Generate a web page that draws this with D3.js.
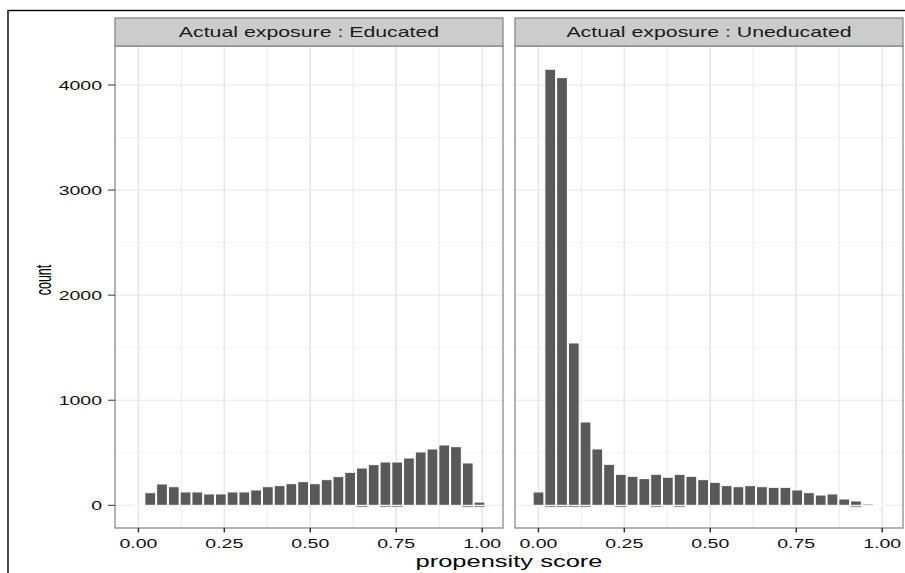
<!DOCTYPE html>
<html>
<head>
<meta charset="utf-8">
<script src="https://cdn.jsdelivr.net/npm/d3@7"></script>
<style>
  body { margin: 0; background: #fff; }
  text { font-family: "Liberation Sans", Arial, sans-serif; }
</style>
</head>
<body>
<div id="vis"></div>
<script>
// facet labels
var panels = ["Actual exposure : Educated", "Actual exposure : Uneducated"];

// histogram bins (30 bins, shared)
var binStart = -0.0167,
    binWidth = 0.0342;

// counts per bin
var educatedCounts = [0, 120, 203, 177, 127, 127, 108, 108, 127, 127, 146, 177, 187, 206, 225,
  206, 244, 273, 314, 355, 387, 412, 412, 450, 508, 536, 574, 558, 403, 31];
var uneducatedCounts = [127, 4150, 4070, 1545, 793, 536, 390, 295, 276, 254, 295, 267, 295, 276, 244,
  219, 187, 177, 187, 177, 171, 171, 146, 120, 98, 108, 60, 41, 12, 0];

// bins with a tiny second layer showing as a dash under the base
var educatedMinor = [19, 21, 22, 28, 29];
var uneducatedMinor = [1, 2, 3, 4, 7, 10, 12, 27];

var xTicks = [0, 0.25, 0.5, 0.75, 1];
var xMinor = [0.125, 0.375, 0.625, 0.875];
var yTicks = [0, 1000, 2000, 3000, 4000];
var yMinor = [500, 1500, 2500, 3500];

var series = [educatedCounts, uneducatedCounts];
var minors = [educatedMinor, uneducatedMinor];

var width = 905, height = 573;
var sx = 1.5; // picture is stretched sideways
var panelX = [115, 515], panelW = 388,
    panelTop = 46, panelBottom = 528, stripTop = 18;

var svg = d3.select("#vis")
  .append("svg")
  .attr("width", width)
  .attr("height", height);

// outer frame
svg.append("rect")
  .attr("x", 8).attr("y", 10.5)
  .attr("width", 1000).attr("height", 1000)
  .attr("fill", "none")
  .attr("stroke", "#000")
  .attr("stroke-width", 1.4);

var lo = binStart, hi = binStart + 30 * binWidth, pad = 0.05 * (hi - lo);

var y = d3.scaleLinear()
  .domain([-216, 4371])
  .range([panelBottom, panelTop]);

function stretched(sel, x, yy) {
  return sel.attr("transform", "translate(" + x + "," + yy + ") scale(" + sx + ",1)");
}

panels.forEach(function (label, i) {
  var x = d3.scaleLinear()
    .domain([lo - pad, hi + pad])
    .range([panelX[i], panelX[i] + panelW]);

  var g = svg.append("g");

  // grid
  g.selectAll(".yminor").data(yMinor).enter().append("line")
    .attr("x1", panelX[i]).attr("x2", panelX[i] + panelW)
    .attr("y1", function (d) { return y(d); }).attr("y2", function (d) { return y(d); })
    .attr("stroke", "#f3f3f3").attr("stroke-width", 1);
  g.selectAll(".xminor").data(xMinor).enter().append("line")
    .attr("x1", function (d) { return x(d); }).attr("x2", function (d) { return x(d); })
    .attr("y1", panelTop).attr("y2", panelBottom)
    .attr("stroke", "#f0f0f0").attr("stroke-width", 1.6);
  g.selectAll(".ymajor").data(yTicks).enter().append("line")
    .attr("x1", panelX[i]).attr("x2", panelX[i] + panelW)
    .attr("y1", function (d) { return y(d); }).attr("y2", function (d) { return y(d); })
    .attr("stroke", "#e6e6e6").attr("stroke-width", 1);
  g.selectAll(".xmajor").data(xTicks).enter().append("line")
    .attr("x1", function (d) { return x(d); }).attr("x2", function (d) { return x(d); })
    .attr("y1", panelTop).attr("y2", panelBottom)
    .attr("stroke", "#e6e6e6").attr("stroke-width", 1.6);

  // minor dashes under the bars
  g.selectAll(".minor").data(minors[i]).enter().append("line")
    .attr("x1", function (d) { return x(binStart + d * binWidth) + 0.5; })
    .attr("x2", function (d) { return x(binStart + (d + 1) * binWidth) - 0.5; })
    .attr("y1", y(0) + 1.3).attr("y2", y(0) + 1.3)
    .attr("stroke", "#8c8c8c").attr("stroke-width", 1);

  // bars
  g.selectAll(".bar").data(series[i]).enter().append("path")
    .attr("d", function (d, k) {
      var x0 = x(binStart + k * binWidth) + 0.5,
          x1 = x(binStart + (k + 1) * binWidth) - 0.5;
      return "M" + x0 + "," + y(0) + "H" + x1 + "V" + y(d) + "H" + x0 + "Z";
    })
    .attr("fill", "#595959")
    .attr("stroke", "#fff")
    .attr("stroke-width", 1);

  // panel border
  g.append("rect")
    .attr("x", panelX[i]).attr("y", panelTop)
    .attr("width", panelW).attr("height", panelBottom - panelTop)
    .attr("fill", "none").attr("stroke", "#808080").attr("stroke-width", 1.2);

  // strip
  g.append("rect")
    .attr("x", panelX[i]).attr("y", stripTop)
    .attr("width", panelW).attr("height", panelTop - stripTop)
    .attr("fill", "#cccccc").attr("stroke", "#808080").attr("stroke-width", 1.2);
  stretched(g.append("text"), panelX[i] + panelW / 2, (stripTop + panelTop) / 2 + 5)
    .attr("text-anchor", "middle")
    .attr("font-size", 14.2)
    .attr("fill", "#1a1a1a")
    .text(label);

  // x axis
  g.selectAll(".xtick").data(xTicks).enter().append("line")
    .attr("x1", function (d) { return x(d); }).attr("x2", function (d) { return x(d); })
    .attr("y1", panelBottom).attr("y2", panelBottom + 4.5)
    .attr("stroke", "#333").attr("stroke-width", 1.5);
  g.selectAll(".xlab").data(xTicks).enter().append("text")
    .each(function (d) { stretched(d3.select(this), x(d), 548); })
    .attr("text-anchor", "middle")
    .attr("font-size", 13)
    .attr("fill", "#111")
    .text(function (d) { return d3.format(".2f")(d); });
});

// y axis (left panel only)
svg.selectAll(".ytick").data(yTicks).enter().append("line")
  .attr("x1", panelX[0] - 7).attr("x2", panelX[0])
  .attr("y1", function (d) { return y(d); }).attr("y2", function (d) { return y(d); })
  .attr("stroke", "#333").attr("stroke-width", 1);
svg.selectAll(".ylab").data(yTicks).enter().append("text")
  .each(function (d) { stretched(d3.select(this), 102, y(d) + 4.8); })
  .attr("text-anchor", "end")
  .attr("font-size", 13)
  .attr("fill", "#111")
  .text(function (d) { return d; });

// axis titles
stretched(svg.append("text"), (panelX[0] + panelX[1] + panelW) / 2, 567)
  .attr("text-anchor", "middle")
  .attr("font-size", 17)
  .attr("fill", "#000")
  .text("propensity score");

// the rotated title is squeezed along its length in the picture
svg.append("text")
  .attr("transform", "translate(50.5,280) scale(1.8,1) rotate(-90)")
  .attr("text-anchor", "middle")
  .attr("font-size", 12.5)
  .attr("fill", "#000")
  .text("count");
</script>
</body>
</html>
